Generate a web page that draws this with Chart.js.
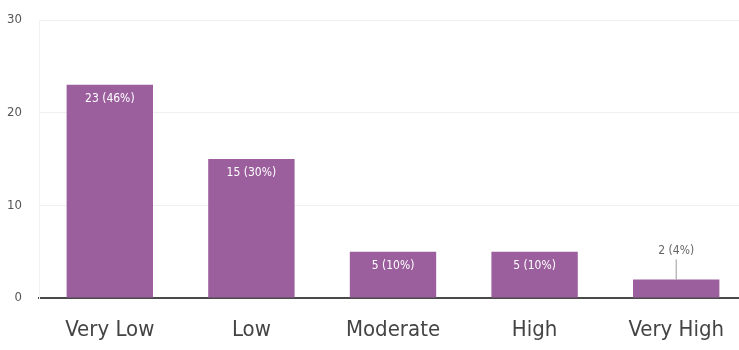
<!DOCTYPE html>
<html>
<head>
<meta charset="utf-8">
<script src="https://cdn.jsdelivr.net/npm/chart.js@4/dist/chart.umd.min.js"></script>
<style>
  html, body { margin: 0; padding: 0; background: #fff; overflow: hidden; }
</style>
</head>
<body>
<canvas id="barchart" width="739" height="350"></canvas>
<script>
const categories = ['Very Low', 'Low', 'Moderate', 'High', 'Very High'];
const counts = [23, 15, 5, 5, 2];
const yTicks = [0, 10, 20, 30];

const total = counts.reduce((a, b) => a + b, 0);
const narrow = "'DejaVu Sans Condensed', 'Liberation Sans Narrow', sans-serif";

// plot box: top edge pinned, last category runs a little past the canvas edge
const plotBox = {
  id: 'plotBox',
  afterLayout(chart) {
    const x = chart.scales.x;
    const y = chart.scales.y;
    x.right += 8;
    x.width += 8;
    x.configure();
    y.top = 20;
    y.height = y.bottom - y.top;
    y.configure();
    chart.chartArea.right += 8;
    chart.chartArea.width += 8;
    chart.chartArea.top = 20;
    chart.chartArea.height = chart.chartArea.bottom - 20;
  }
};

// count + share label on each bar; short bars get it above with a leader line
const barLabels = {
  id: 'barLabels',
  afterDatasetsDraw(chart) {
    const ctx = chart.ctx;
    const meta = chart.getDatasetMeta(0);
    ctx.save();
    ctx.font = '12px ' + narrow;
    ctx.textAlign = 'center';
    ctx.textBaseline = 'middle';
    meta.data.forEach((bar, i) => {
      const v = counts[i];
      const text = v + ' (' + Math.round(v / total * 100) + '%)';
      if (v >= 5) {
        ctx.fillStyle = '#ffffff';
        ctx.fillText(text, bar.x, bar.y + 14);
      } else {
        ctx.strokeStyle = '#9a9a9a';
        ctx.lineWidth = 1;
        ctx.beginPath();
        ctx.moveTo(bar.x, bar.y);
        ctx.lineTo(bar.x, bar.y - 20);
        ctx.stroke();
        ctx.fillStyle = '#666666';
        ctx.fillText(text, bar.x, bar.y - 29);
      }
    });
    ctx.restore();
  }
};

new Chart(document.getElementById('barchart'), {
  type: 'bar',
  data: {
    labels: categories,
    datasets: [{
      data: counts,
      backgroundColor: '#9c5f9e',
      barPercentage: 0.61,
      categoryPercentage: 1
    }]
  },
  options: {
    responsive: false,
    animation: false,
    layout: { padding: { top: 20, right: 0, left: 0, bottom: 0 } },
    plugins: {
      legend: { display: false },
      tooltip: { enabled: false }
    },
    scales: {
      x: {
        grid: { display: false, drawTicks: false },
        border: { color: '#4a4a4a', width: 2 },
        ticks: {
          color: '#444444',
          padding: 19,
          font: { family: narrow, size: 22 }
        },
        afterFit(scale) { scale.height = 52; }
      },
      y: {
        min: 0,
        max: 30,
        afterBuildTicks(scale) { scale.ticks = yTicks.map(v => ({ value: v })); },
        grid: { color: '#efefef', drawTicks: false },
        border: { color: '#f2f2f2' },
        ticks: {
          color: '#555555',
          padding: 17,
          font: { family: narrow, size: 13 }
        },
        afterFit(scale) { scale.width = 39; }
      }
    }
  },
  plugins: [plotBox, barLabels]
});
</script>
</body>
</html>
